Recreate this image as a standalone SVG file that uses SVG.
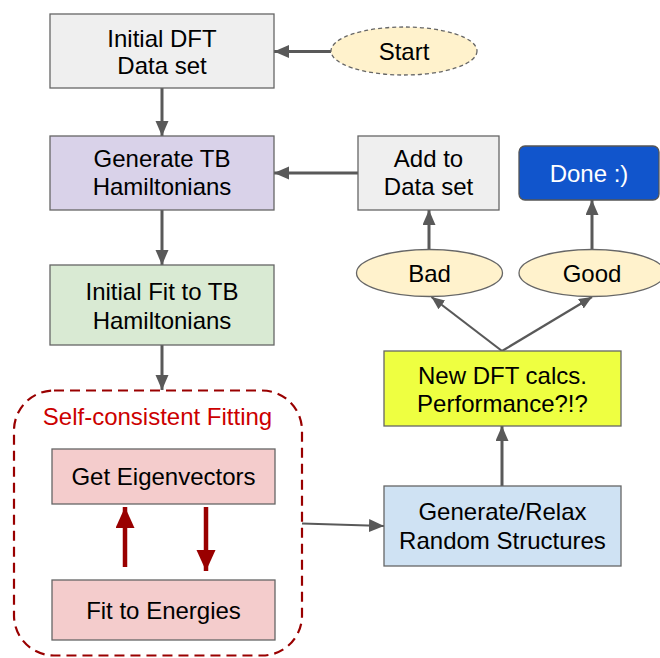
<svg xmlns="http://www.w3.org/2000/svg" width="660" height="658" viewBox="0 0 660 658">
<defs>
<style>
.box{stroke:#666666;stroke-width:1.3}
.ell{fill:#fff2cc;stroke:#666666;stroke-width:1.3}
.t{font-family:"Liberation Sans",Arial,sans-serif;font-size:24px;fill:#000;text-anchor:middle}
.c{fill:none;stroke:#595959;stroke-width:3}
.c2{fill:none;stroke:#595959;stroke-width:2.2}
.r{fill:none;stroke:#990000;stroke-width:4.5}
</style>
<marker id="ah" markerUnits="userSpaceOnUse" markerWidth="16" markerHeight="14" refX="15" refY="6.5" orient="auto">
<path d="M0,0 L15,6.5 L0,13 z" fill="#595959"/>
</marker>
<marker id="ah2" markerUnits="userSpaceOnUse" markerWidth="14" markerHeight="12" refX="13" refY="5.5" orient="auto">
<path d="M0,0 L13,5.5 L0,11 z" fill="#595959"/>
</marker>
<marker id="rh" markerUnits="userSpaceOnUse" markerWidth="22" markerHeight="20" refX="21" refY="9.5" orient="auto">
<path d="M0,0 L21,9.5 L0,19 z" fill="#990000"/>
</marker>
</defs>

<g id="connectors">
<line class="c" x1="331" y1="51.5" x2="274" y2="51.5" marker-end="url(#ah)"/>
<line class="c" x1="162" y1="88" x2="162" y2="136" marker-end="url(#ah)"/>
<line class="c" x1="358" y1="173" x2="274" y2="173" marker-end="url(#ah)"/>
<line class="c" x1="162" y1="210" x2="162" y2="265" marker-end="url(#ah)"/>
<line class="c" x1="162" y1="345" x2="162" y2="390" marker-end="url(#ah)"/>
<line class="c2" x1="302" y1="523.5" x2="384" y2="526" marker-end="url(#ah)"/>
<line class="c" x1="502" y1="486" x2="502" y2="426" marker-end="url(#ah)"/>
<line class="c2" x1="502" y1="351" x2="431.5" y2="297" marker-end="url(#ah2)"/>
<line class="c2" x1="502" y1="351" x2="592" y2="297" marker-end="url(#ah2)"/>
<line class="c" x1="429" y1="249" x2="429" y2="210" marker-end="url(#ah)"/>
<line class="c" x1="592" y1="249" x2="592" y2="200" marker-end="url(#ah)"/>
<line class="r" x1="125" y1="567" x2="125" y2="507" marker-end="url(#rh)"/>
<line class="r" x1="206" y1="507" x2="206" y2="571" marker-end="url(#rh)"/>
</g>

<g id="scf-group">
<rect x="14" y="390.5" width="288" height="265" rx="40" ry="40" fill="none" stroke="#990000" stroke-width="2.2" stroke-dasharray="10,6"/>
<text class="t" x="157.5" y="425" style="fill:#cc0000">Self-consistent Fitting</text>
</g>

<g id="initial-dft">
<rect class="box" x="50" y="14" width="224" height="74" fill="#efefef"/>
<text class="t" x="162" y="46.5">Initial DFT</text>
<text class="t" x="162" y="74">Data set</text>
</g>

<g id="start">
<ellipse cx="404" cy="51" rx="73" ry="24" fill="#fff2cc" stroke="#666666" stroke-width="1.3" stroke-dasharray="4,3"/>
<text class="t" x="404" y="60">Start</text>
</g>

<g id="generate-tb">
<rect class="box" x="50" y="136" width="224" height="74" fill="#d9d2e9"/>
<text class="t" x="162" y="167">Generate TB</text>
<text class="t" x="162" y="195">Hamiltonians</text>
</g>

<g id="add-data">
<rect class="box" x="358" y="136" width="141" height="74" fill="#efefef"/>
<text class="t" x="428.5" y="167">Add to</text>
<text class="t" x="428.5" y="195">Data set</text>
</g>

<g id="done">
<rect x="519" y="146" width="140" height="54" rx="6" ry="6" fill="#1155cc" stroke="#555555" stroke-width="1.3"/>
<text class="t" x="589" y="182" style="fill:#ffffff">Done :)</text>
</g>

<g id="bad">
<ellipse class="ell" cx="429.5" cy="273" rx="73" ry="23.5"/>
<text class="t" x="429.5" y="282">Bad</text>
</g>

<g id="good">
<ellipse class="ell" cx="592" cy="273" rx="73" ry="23.5"/>
<text class="t" x="592" y="282">Good</text>
</g>

<g id="initial-fit">
<rect class="box" x="50" y="265" width="224" height="80" fill="#d9ead3"/>
<text class="t" x="162" y="300">Initial Fit to TB</text>
<text class="t" x="162" y="328.5">Hamiltonians</text>
</g>

<g id="new-dft">
<rect class="box" x="384" y="351" width="237" height="75" fill="#eeff41"/>
<text class="t" x="502.5" y="383.5">New DFT calcs.</text>
<text class="t" x="502.5" y="411.5">Performance?!?</text>
</g>

<g id="get-eigen">
<rect class="box" x="52" y="449" width="223" height="55" fill="#f4cccc"/>
<text class="t" x="163.5" y="485">Get Eigenvectors</text>
</g>

<g id="fit-energies">
<rect class="box" x="52" y="580" width="223" height="60" fill="#f4cccc"/>
<text class="t" x="163.5" y="618.5">Fit to Energies</text>
</g>

<g id="generate-relax">
<rect class="box" x="384" y="486" width="237" height="80" fill="#cfe2f3"/>
<text class="t" x="502.5" y="520">Generate/Relax</text>
<text class="t" x="502.5" y="548.5">Random Structures</text>
</g>
</svg>
